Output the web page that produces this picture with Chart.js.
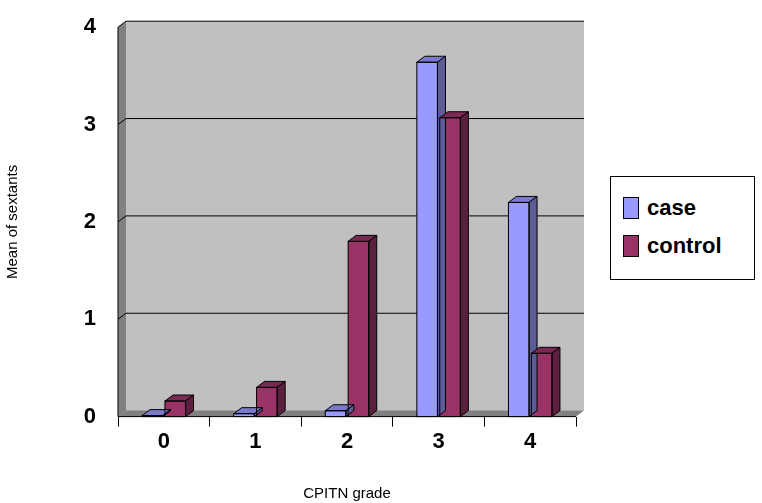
<!DOCTYPE html>
<html><head><meta charset="utf-8">
<script src="https://cdn.jsdelivr.net/npm/chart.js@4"></script>
<style>
body{margin:0;background:#fff;font-family:Arial,"Liberation Sans",sans-serif}
#wrap{position:relative;width:762px;height:503px}
#legend{position:absolute;left:610px;top:176px;width:145px;height:104px;border:1px solid #000;background:#fff;box-sizing:border-box;padding:12px 0 0 12px}
.item{display:flex;align-items:center;font-size:22px;font-weight:bold;height:38px}
.sw{width:14px;height:20px;border:1px solid #000;margin-right:8px}
</style></head><body>
<div id="wrap"><canvas id="c" width="762" height="503"></canvas>
<div id="legend">
<div class="item"><span class="sw" style="background:#9999ff"></span>case</div>
<div class="item"><span class="sw" style="background:#993366"></span>control</div>
</div></div>
<script>
const categories=["0","1","2","3","4"];
const caseValues=[0.01,0.03,0.06,3.64,2.2];
const controlValues=[0.16,0.3,1.8,3.07,0.65];
const DX=8,DY=-6;
function shade(hex,f){const n=parseInt(hex.slice(1),16);let r=n>>16,g=(n>>8)&255,b=n&255;return `rgb(${Math.round(r*f)},${Math.round(g*f)},${Math.round(b*f)})`;}
const bg3d={id:'bg3d',beforeDraw(ch){const {ctx,chartArea:a}=ch;ctx.save();
ctx.fillStyle='#c0c0c0';ctx.beginPath();ctx.moveTo(a.left,a.top);ctx.lineTo(a.left+DX,a.top+DY);ctx.lineTo(a.right+DX,a.top+DY);ctx.lineTo(a.right+DX,a.bottom+DY);ctx.lineTo(a.left,a.bottom);ctx.closePath();ctx.fill();
ctx.fillStyle='#808080';ctx.beginPath();ctx.moveTo(a.left,a.top);ctx.lineTo(a.left+DX,a.top+DY);ctx.lineTo(a.left+DX,a.bottom+DY);ctx.lineTo(a.left,a.bottom);ctx.fill();
ctx.fillStyle='#808080';ctx.beginPath();ctx.moveTo(a.left,a.bottom);ctx.lineTo(a.left+DX,a.bottom+DY);ctx.lineTo(a.right+DX,a.bottom+DY);ctx.lineTo(a.right,a.bottom);ctx.fill();
const y=ch.scales.y;ctx.strokeStyle='#000';ctx.lineWidth=1;
[1,2,3,4].forEach(v=>{const py=y.getPixelForValue(v);ctx.beginPath();ctx.moveTo(a.left,py);ctx.lineTo(a.left+DX,py+DY);ctx.lineTo(a.right+DX,py+DY);ctx.stroke();});
ctx.beginPath();ctx.moveTo(a.left,a.top);ctx.lineTo(a.left,a.bottom);ctx.lineTo(a.right,a.bottom);ctx.stroke();
ctx.restore();},
afterDatasetsDraw(ch){const ctx=ch.ctx;ctx.save();ctx.strokeStyle='#000';ctx.lineWidth=1;
ch.data.datasets.forEach((ds,i)=>{ch.getDatasetMeta(i).data.forEach(b=>{const w=b.width,l=b.x-w/2,r=b.x+w/2,t=b.y,bt=b.base;
ctx.fillStyle=shade(ds.backgroundColor,0.8);ctx.beginPath();ctx.moveTo(l,t);ctx.lineTo(l+DX,t+DY);ctx.lineTo(r+DX,t+DY);ctx.lineTo(r,t);ctx.closePath();ctx.fill();ctx.stroke();
ctx.fillStyle=shade(ds.backgroundColor,0.6);ctx.beginPath();ctx.moveTo(r,t);ctx.lineTo(r+DX,t+DY);ctx.lineTo(r+DX,bt+DY);ctx.lineTo(r,bt);ctx.closePath();ctx.fill();ctx.stroke();
ctx.strokeRect(l,t,w,bt-t);});});ctx.restore();}};
new Chart(document.getElementById('c'),{type:'bar',
data:{labels:categories,datasets:[{label:'case',data:caseValues,backgroundColor:'#9999ff'},{label:'control',data:controlValues,backgroundColor:'#993366'}]},
options:{responsive:false,animation:false,layout:{padding:{left:0,right:186,top:3,bottom:0}},
plugins:{legend:{display:false},tooltip:{enabled:false}},
datasets:{bar:{categoryPercentage:0.5,barPercentage:0.9}},
scales:{y:{min:0,max:4,afterFit(s){s.width=118;},ticks:{stepSize:1,color:'#000',font:{size:22,weight:'bold'},padding:14},grid:{display:false},border:{display:false},
title:{display:true,text:'Mean of sextants',color:'#000',font:{size:15}}},
x:{ticks:{color:'#000',font:{size:22,weight:'bold'},padding:2},grid:{display:true,drawOnChartArea:false,tickLength:10,color:'#000',offset:true},border:{display:false},
title:{display:true,text:'CPITN grade',color:'#000',font:{size:15},padding:{top:28,bottom:0}}}}},
plugins:[bg3d]});
</script></body></html>
